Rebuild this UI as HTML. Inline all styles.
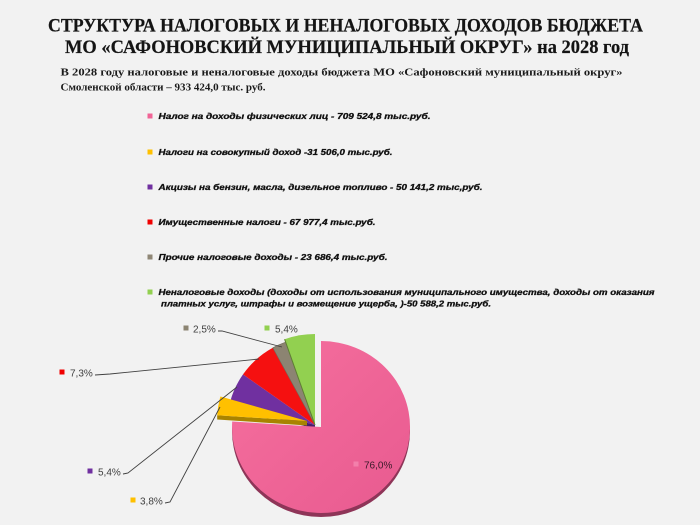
<!DOCTYPE html>
<html>
<head>
<meta charset="utf-8">
<style>
  html, body { margin:0; padding:0; background:#f2f2f2; }
  svg { display:block; }
</style>
</head>
<body>
<svg width="700" height="525" viewBox="0 0 700 525" xmlns="http://www.w3.org/2000/svg">
  <defs>
    <linearGradient id="pg" x1="0" y1="0" x2="1" y2="1">
      <stop offset="0" stop-color="#f6709e"/>
      <stop offset="1" stop-color="#e85a90"/>
    </linearGradient>
    <clipPath id="lowclip"><rect x="0" y="427" width="700" height="100"/></clipPath>
  </defs>
  <rect x="0" y="0" width="700" height="525" fill="#f2f2f2"/>

  <!-- Title -->
  <text x="48" y="31.5" textLength="595" lengthAdjust="spacingAndGlyphs" font-family="Liberation Serif, serif" font-weight="bold" font-size="18.5" fill="#141414" stroke="#141414" stroke-width="0.2">СТРУКТУРА НАЛОГОВЫХ И НЕНАЛОГОВЫХ ДОХОДОВ БЮДЖЕТА</text>
  <text x="65" y="53" textLength="564" lengthAdjust="spacingAndGlyphs" font-family="Liberation Serif, serif" font-weight="bold" font-size="18.5" fill="#141414" stroke="#141414" stroke-width="0.2">МО «САФОНОВСКИЙ МУНИЦИПАЛЬНЫЙ ОКРУГ» на 2028 год</text>

  <!-- Subtitle -->
  <text x="60.5" y="75.5" textLength="562" lengthAdjust="spacingAndGlyphs" font-family="Liberation Serif, serif" font-weight="bold" font-size="10.5" fill="#1a1a1a">В 2028 году налоговые и неналоговые доходы бюджета  МО «Сафоновский муниципальный  округ»</text>
  <text x="60.5" y="90.5" textLength="205" lengthAdjust="spacingAndGlyphs" font-family="Liberation Serif, serif" font-weight="bold" font-size="10.5" fill="#1a1a1a">Смоленской области – 933 424,0 тыс. руб.</text>

  <!-- Legend -->
  <g font-family="Liberation Sans, sans-serif" font-weight="bold" font-style="italic" font-size="8" fill="#111" stroke="#111" stroke-width="0.3">
    <rect x="147.5" y="113.5" width="5" height="5" fill="#f06496" stroke="none"/>
    <text x="158.5" y="119" textLength="272" lengthAdjust="spacingAndGlyphs">Налог на доходы физических лиц - 709 524,8  тыс.руб.</text>

    <rect x="147.5" y="149.5" width="5" height="5" fill="#ffc000" stroke="none"/>
    <text x="158.5" y="155" textLength="234" lengthAdjust="spacingAndGlyphs">Налоги на совокупный доход -31 506,0 тыс.руб.</text>

    <rect x="147.5" y="184.5" width="5" height="5" fill="#7030a0" stroke="none"/>
    <text x="158.5" y="190" textLength="324" lengthAdjust="spacingAndGlyphs">Акцизы на бензин, масла, дизельное топливо - 50 141,2 тыс,руб.</text>

    <rect x="147.5" y="219.5" width="5" height="5" fill="#f00000" stroke="none"/>
    <text x="158.5" y="225" textLength="217" lengthAdjust="spacingAndGlyphs">Имущественные налоги  - 67 977,4  тыс.руб.</text>

    <rect x="147.5" y="254.5" width="5" height="5" fill="#8f8776" stroke="none"/>
    <text x="158.5" y="260" textLength="229" lengthAdjust="spacingAndGlyphs">Прочие налоговые доходы - 23 686,4  тыс.руб.</text>

    <rect x="147.5" y="289.5" width="5" height="5" fill="#92d050" stroke="none"/>
    <text x="158.5" y="295" textLength="496" lengthAdjust="spacingAndGlyphs">Неналоговые доходы  (доходы от использования муниципального имущества, доходы от оказания</text>
    <text x="161" y="306.5" textLength="330" lengthAdjust="spacingAndGlyphs">платных услуг, штрафы и возмещение ущерба, )-50 588,2 тыс.руб.</text>
  </g>

  <!-- Pie: small slices -->
  <polygon points="230.3,401.1 315,425 315,429 230.3,405.1" fill="#4a1d6b"/>
  <path d="M315,425 L230.3,401.1 A88,88 0 0,1 243.0,374.4 Z" fill="#7030a0"/>
  <path d="M315,425 L243.0,374.4 A88,88 0 0,1 272.8,347.8 Z" fill="#f51010"/>
  <path d="M315,425 L272.8,347.8 A88,88 0 0,1 285.6,342.1 Z" fill="#8c8472" stroke="#6e6858" stroke-width="0.6"/>
  <path d="M315,425 L284.6,339.2 A91,91 0 0,1 315,334 Z" fill="#92d050"/>
  <line x1="315" y1="425" x2="284.6" y2="339.2" stroke="#5f7f34" stroke-width="1"/>
  <polygon points="217.2,415.3 307,421 307,425.5 217.2,419.5" fill="#a88300"/>
  <path d="M307,421 L217.2,415.3 A90,90 0 0,1 220.4,396.5 Z" fill="#ffc000"/>

  <!-- Pink big slice -->
  <ellipse cx="321" cy="431" rx="89" ry="86" fill="#8e3558" clip-path="url(#lowclip)"/>
  <path d="M321,427 L321,341 A89,86 0 1,1 232.2,421.5 Z" fill="url(#pg)"/>

  <!-- Leader lines -->
  <g stroke="#404040" stroke-width="0.9" fill="none">
    <polyline points="218,331 222,331 282,347"/>
    <polyline points="95,375 110,374 259,359"/>
    <polyline points="123,474 128,473 237,387"/>
    <polyline points="165,503 170,502 220,407"/>
  </g>

  <!-- Data labels -->
  <g font-family="Liberation Sans, sans-serif" font-size="10" fill="#404040">
    <rect x="183.5" y="325.5" width="5" height="5" fill="#8c8472"/>
    <text x="193" y="332.5">2,5%</text>
    <rect x="264.5" y="325.5" width="5" height="5" fill="#92d050"/>
    <text x="275" y="332.5">5,4%</text>
    <rect x="59.5" y="369.5" width="5" height="5" fill="#f00000"/>
    <text x="70" y="376.5">7,3%</text>
    <rect x="87.5" y="468.5" width="5" height="5" fill="#7030a0"/>
    <text x="98" y="475.5">5,4%</text>
    <rect x="130.5" y="497.5" width="5" height="5" fill="#ffc000"/>
    <text x="140" y="504.5">3,8%</text>
    <rect x="353.5" y="461.5" width="5" height="5" fill="#f380ab"/>
    <text x="364" y="468.5" fill="#3a1a2a">76,0%</text>
  </g>
</svg>
</body>
</html>
